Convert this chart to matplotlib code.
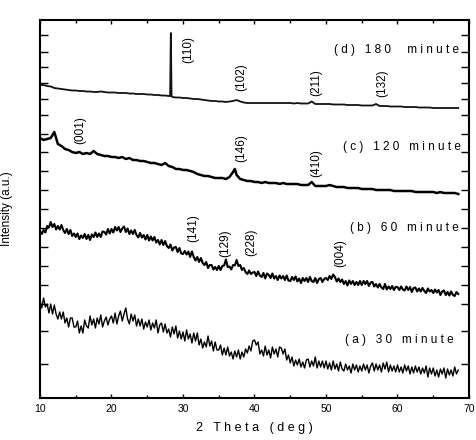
import numpy as np
import matplotlib
matplotlib.use('Agg')
import matplotlib.pyplot as plt

plt.rcParams['font.family'] = ['Liberation Sans', 'DejaVu Sans']

# 2 theta sampling (deg): fine grid for the noisy scans, coarse for the smooth ones
tt_fine = np.arange(10, 68.6, 0.25)
tt_coarse = np.arange(10, 68.75, 0.5)

# intensities (a.u., already stacked)
# (a) 30 minute, 0.25 deg steps
int_a = [98, 90, 100, 91, 94, 85, 94, 84, 93, 84, 79, 86, 79, 86, 75, 80, 71, 80, 80, 71,
         71, 77, 65, 72, 65, 78, 72, 70, 82, 73, 79, 70, 80, 74, 83, 71, 77, 81, 73, 79,
         82, 75, 85, 74, 82, 87, 77, 84, 90, 79, 74, 84, 77, 83, 72, 79, 72, 79, 69, 76,
         71, 78, 68, 75, 70, 78, 65, 73, 75, 66, 74, 65, 69, 61, 71, 64, 72, 60, 67, 59,
         66, 57, 68, 59, 64, 55, 65, 57, 65, 53, 59, 50, 56, 51, 62, 52, 57, 47, 56, 48,
         48, 53, 43, 50, 43, 51, 42, 46, 39, 47, 41, 48, 39, 46, 41, 49, 45, 52, 47, 57,
         58, 53, 56, 44, 48, 42, 52, 43, 48, 40, 51, 44, 49, 41, 51, 50, 44, 49, 38, 43,
         35, 41, 32, 38, 33, 39, 31, 36, 30, 38, 39, 31, 37, 32, 41, 30, 37, 31, 37, 30,
         37, 29, 35, 28, 37, 29, 34, 27, 36, 29, 27, 34, 28, 32, 25, 34, 28, 33, 26, 32,
         27, 34, 28, 33, 25, 32, 35, 27, 34, 28, 33, 26, 35, 29, 36, 26, 33, 27, 32, 26,
         33, 26, 31, 25, 33, 27, 32, 24, 31, 25, 32, 26, 31, 24, 30, 25, 32, 21, 30, 24,
         30, 22, 28, 21, 29, 24, 30, 20, 29, 23, 28, 22, 31, 24, 28]
# (b) 60 minute, 0.25 deg steps
int_b = [167, 164, 168, 165.5, 172, 170.5, 176, 171, 174, 168.5,
         172, 168.5, 173, 168, 165, 169, 164, 168, 162, 164.5,
         161, 164.5, 159, 162.5, 160, 164, 159, 163, 158, 163.5,
         161, 165.5, 161, 164.5, 161, 166.5, 166, 163.5, 169, 164.5,
         169, 165.5, 171, 167.5, 171, 166, 169.5, 171.5, 166, 169.5,
         164, 167.5, 164, 168, 163, 160.5, 165, 160.5, 163, 158.5,
         163, 157.5, 161.5, 157.5, 161, 155.5, 158, 153.5, 158, 153,
         157, 152, 150, 153.5, 147.5, 150.5, 151, 146, 150, 144.5,
         144, 147, 143.5, 146.5, 141, 146.5, 141, 137.5, 141, 136,
         140, 135, 133, 136, 130, 133, 133, 128.5, 131, 128,
         132, 128, 132, 132.5, 138.5, 131, 131.5, 128.5, 133, 132.5,
         138, 132, 133, 128, 130, 126, 124, 127.5, 124, 125.5,
         126, 122, 126.5, 122.5, 121, 125, 119.5, 124.5, 123, 120,
         124.5, 119.5, 122, 118, 122.5, 119.5, 122, 118, 122.5, 117.5,
         117, 121, 118, 121.5, 116.5, 119.5, 115, 120, 117, 120,
         116, 121, 117, 116, 120, 115, 119, 120, 116, 119,
         120, 118, 122, 119, 123.5, 121, 116.5, 119.5, 116, 118.5,
         114, 117, 112.5, 117.5, 114, 117, 113, 116, 113, 117,
         113, 117, 114, 117, 112, 115.5, 116, 111.5, 114, 110.5,
         114, 110.5, 109, 114, 108.5, 111.5, 109, 112, 108, 111,
         111, 108, 111.5, 108.5, 107.5, 111.5, 108, 111, 106, 110,
         110.5, 106.5, 109.5, 106.5, 110, 107, 105, 109.5, 106.5, 108,
         105, 108.5, 105.5, 108, 103, 106.5, 107.5, 103, 106, 102.5,
         106.5, 103, 102, 106, 104]
# (c) 120 minute, 0.5 deg steps
int_c = [260, 258, 259, 260, 266, 254, 252, 249, 248, 246,
         245, 246, 244, 245, 244, 247, 244, 243, 242, 242,
         241, 241, 240, 241, 239, 240, 238, 238, 237, 237,
         236, 235, 235, 234, 233, 235, 232, 231, 229, 229,
         228, 228, 227, 226, 224, 223, 222, 222, 221, 220,
         220, 220, 219, 221, 226, 223, 219, 218, 217, 217,
         216, 216, 215, 216, 215, 215, 215, 214, 215, 214,
         214, 214, 214, 213, 213, 213, 216, 212, 212, 212,
         212, 213, 212, 211, 211, 211, 210, 210, 210, 210,
         209, 209, 209, 209, 208, 208, 208, 208, 208, 207,
         207, 207, 207, 207, 207, 206, 206, 206, 206, 206,
         206, 205, 206, 205, 205, 205, 205, 204]
peak_c_x = [37.25]
peak_c_y = [229]
# (d) 180 minute, 0.5 deg steps
int_d = [313, 313, 312, 311.5, 310, 309.5, 309, 308.5, 308, 307.5,
         307.5, 307, 307, 306.5, 306.5, 306, 306, 306.5, 306, 305.5,
         305.5, 305.5, 305, 305, 305, 304.5, 304.5, 304, 304, 304,
         303.5, 303.5, 303, 303, 302.5, 302.5, 302, 301, 300.5, 300.5,
         300, 300, 299.5, 299, 299, 298.5, 298, 297.5, 297, 297,
         296.5, 296.5, 296, 296.5, 297, 298, 296.5, 295.5, 295, 295,
         295, 295, 295, 295, 295, 295, 295, 295, 295, 295,
         295, 294.5, 295, 294.5, 294.5, 294.5, 296.5, 294, 294, 294,
         294, 294, 293.5, 293.5, 293.5, 293.5, 293, 293, 293, 293,
         292.5, 292.5, 292.5, 292.5, 294, 292, 292, 292, 291.5, 291.5,
         291.5, 291.5, 291, 291, 291, 291, 290.5, 290.5, 290.5, 290.5,
         290, 290, 290, 290, 290, 290, 290, 290]
peak_d_x = [28.2, 28.3, 28.4]
peak_d_y = [302, 365, 302]

labels = ['(a) 30 minute', '(b) 60 minute', '(c) 120 minute', '(d) 180  minute']
label_x = [67.9, 68.5, 68.9, 68.6]
label_y = [58, 170, 251, 348]

hkl = ['(110)', '(102)', '(211)', '(132)', '(001)', '(146)', '(410)',
       '(141)', '(129)', '(228)', '(004)']
hkl_x = [30.7, 38.1, 48.6, 57.8, 15.6, 38.1, 48.7, 31.4, 35.9, 39.5, 52.0]
hkl_y = [349, 321, 315, 315, 268, 250, 235, 170, 155, 156, 145]

ytick_pos = [363, 346, 331, 315, 299, 283, 264, 246, 227, 208, 189, 170,
             151, 132, 113, 94, 67, 34]


def merge(x, y, px, py):
    xx = np.concatenate([x, px])
    yy = np.concatenate([y, py])
    o = np.argsort(xx)
    return xx[o], yy[o]


fig = plt.figure(figsize=(4.77, 4.40), dpi=100)
ax = fig.add_axes([40 / 477, 42 / 440, 429 / 477, 378 / 440])

xc, yc = merge(tt_coarse, int_c, peak_c_x, peak_c_y)
xd, yd = merge(tt_coarse, int_d, peak_d_x, peak_d_y)
ax.plot(tt_fine, int_a, color='black', lw=1.0)
ax.plot(tt_fine, int_b, color='black', lw=1.5)
ax.plot(xc, yc, color='black', lw=1.8)
ax.plot(xd, yd, color='#111111', lw=1.3)

for s, x, y in zip(labels, label_x, label_y):
    ax.text(x, y, ' '.join(s), ha='right', va='center', fontsize=8.5)
for s, x, y in zip(hkl, hkl_x, hkl_y):
    ax.text(x, y, s, rotation=90, ha='center', va='center', fontsize=8.5)

ax.set_xlim(10, 70)
ax.set_ylim(0, 378)
ax.set_xticks(range(10, 71, 10))
ax.set_xticks(range(15, 70, 10), minor=True)
ax.set_yticks(ytick_pos)
ax.set_yticklabels([])
ax.tick_params(axis='x', which='major', direction='in', top=True, length=3.2, width=1, labelsize=7.5, pad=4)
ax.tick_params(axis='x', which='minor', direction='in', top=True, length=2.4, width=1)
ax.tick_params(axis='y', direction='in', right=True, length=6, width=1)
for sp in ax.spines.values():
    sp.set_linewidth(1.5)

ax.set_xlabel(' '.join('2 Theta (deg)'), fontsize=9, labelpad=6)
ax.set_ylabel('Intensity (a.u.)', fontsize=8.5, labelpad=16)

plt.savefig('out.png', dpi=100)
